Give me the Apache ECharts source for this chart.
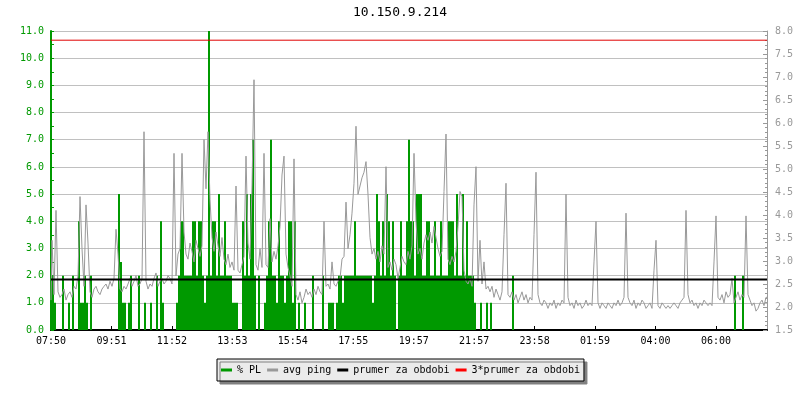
<!DOCTYPE html>
<html>
<head>
<meta charset="utf-8">
<script src="https://cdn.jsdelivr.net/npm/echarts@6/dist/echarts.min.js"></script>
<style>
  html, body { margin: 0; padding: 0; background: #fff; }
  #chart { width: 800px; height: 400px; }
</style>
</head>
<body>
<div id="chart"></div>
<script>
// casove popisky osy x (jeden tick ~ 2 h)
var timeLabels = ['07:50', '09:51', '11:52', '13:53', '15:54', '17:55', '19:57', '21:57', '23:58', '01:59', '04:00', '06:00'];

// avg ping [ms], jeden vzorek = 4 min, od 07:50
var pingMs = [
  2.15, 3.45, 2.27, 4.10, 2.33, 2.21, 2.27, 2.39, 2.15, 2.27,
  2.33, 2.21, 2.45, 2.39, 2.68, 4.40, 3.27, 2.45, 4.22, 3.39,
  2.33, 2.21, 2.39, 2.45, 2.33, 2.27, 2.39, 2.45, 2.50, 2.39,
  2.56, 2.45, 2.62, 3.69, 3.15, 2.39, 2.33, 2.45, 2.39, 2.50,
  2.62, 2.45, 2.56, 2.68, 2.45, 2.50, 2.62, 5.81, 2.56, 2.39,
  2.50, 2.45, 2.62, 2.74, 2.45, 2.56, 2.62, 2.50, 2.56, 2.68,
  2.62, 2.50, 5.34, 2.68, 3.15, 3.27, 5.34, 3.63, 3.15, 3.04,
  3.39, 3.21, 2.98, 3.45, 3.27, 3.10, 3.33, 5.64, 4.57, 5.81,
  4.34, 3.51, 3.21, 3.63, 3.33, 3.10, 3.51, 3.04, 2.92, 3.15,
  2.86, 2.98, 2.80, 4.63, 2.80, 2.74, 2.92, 3.10, 5.28, 3.39,
  3.04, 4.63, 6.94, 2.92, 2.80, 3.27, 2.86, 5.34, 2.92, 2.86,
  3.92, 2.98, 3.21, 3.04, 3.33, 3.75, 4.87, 5.28, 3.15, 2.86,
  2.68, 2.45, 5.22, 2.27, 2.15, 2.33, 2.09, 2.21, 2.39, 2.27,
  2.33, 2.21, 2.39, 2.27, 2.45, 2.33, 2.27, 3.86, 2.45, 2.50,
  2.39, 2.98, 2.50, 2.45, 2.56, 2.62, 3.04, 3.10, 4.28, 3.27,
  3.57, 4.04, 4.69, 5.93, 4.45, 4.63, 4.81, 4.93, 5.16, 4.45,
  3.51, 3.15, 3.27, 3.04, 3.21, 2.98, 3.33, 3.15, 5.05, 2.86,
  2.98, 2.80, 3.04, 2.92, 2.62, 2.86, 3.10, 2.98, 2.92, 3.21,
  3.04, 3.33, 5.34, 3.86, 3.15, 3.27, 3.04, 3.39, 3.57, 3.45,
  3.63, 3.39, 3.75, 3.51, 3.27, 3.10, 3.21, 4.51, 5.76, 3.04,
  2.92, 3.10, 2.98, 3.21, 3.75, 4.51, 4.40, 2.80, 2.56, 2.50,
  2.62, 2.45, 4.22, 5.05, 2.56, 3.45, 2.50, 2.98, 2.39, 2.45,
  2.33, 2.45, 2.21, 2.39, 2.27, 2.15, 2.33, 3.57, 4.69, 2.27,
  2.21, 2.33, 2.15, 2.27, 2.09, 2.21, 2.33, 2.15, 2.27, 2.09,
  2.21, 2.15, 3.57, 4.93, 2.27, 2.09, 2.03, 2.15, 2.09, 1.97,
  2.09, 2.03, 2.15, 1.97, 2.09, 2.03, 2.15, 2.09, 4.45, 2.21,
  2.03, 2.09, 1.97, 2.15, 2.03, 2.09, 1.97, 2.03, 2.15, 2.03,
  2.09, 2.03, 2.98, 3.86, 2.09, 1.97, 2.09, 2.03, 1.97, 2.09,
  2.03, 1.97, 2.09, 2.03, 2.15, 2.03, 2.09, 2.21, 4.04, 2.21,
  2.09, 2.03, 2.15, 1.97, 2.09, 2.03, 2.15, 2.09, 1.97, 2.03,
  2.09, 1.97, 2.80, 3.45, 2.03, 1.97, 2.09, 2.03, 1.97, 2.03,
  1.97, 2.03, 2.09, 2.03, 1.97, 2.09, 2.15, 2.21, 4.10, 2.27,
  2.09, 2.15, 2.03, 2.09, 1.97, 2.09, 2.03, 2.15, 2.09, 2.03,
  2.09, 2.03, 2.98, 3.98, 2.21, 2.15, 2.27, 2.09, 2.33, 2.21,
  2.27, 2.62, 2.09, 2.21, 2.33, 2.15, 2.27, 2.21, 3.98, 2.27,
  2.15, 2.03, 2.09, 1.91, 1.97, 2.09, 2.15, 2.03, 2.21
];

// % packet loss, stejne vzorky
var lossPct = [
  2, 2, 1, 0, 0, 0, 2, 0, 0, 1,
  0, 2, 0, 0, 4, 1, 1, 2, 1, 0,
  2, 0, 0, 0, 0, 0, 0, 0, 0, 0,
  0, 0, 0, 0, 5, 2.5, 1, 1, 0, 1,
  2, 0, 0, 0, 2, 0, 0, 1, 0, 0,
  1, 0, 0, 2, 0, 4, 1, 0, 0, 0,
  0, 0, 0, 1, 2, 4, 4, 2, 2, 2,
  2, 4, 4, 2, 4, 4, 2, 1, 2, 11,
  2, 4, 4, 2, 5, 2, 2, 4, 2, 2,
  2, 1, 1, 1, 0, 0, 4, 2, 5, 2,
  5, 7, 2, 0, 2, 0, 0, 1, 2, 4,
  7, 2, 2, 1, 4, 2, 2, 1, 2, 4,
  4, 1, 4, 0, 1, 0, 0, 1, 0, 0,
  0, 2, 0, 0, 0, 0, 2, 0, 0, 1,
  1, 1, 0, 1, 2, 2, 1, 2, 2, 2,
  2, 2, 4, 2, 2, 2, 2, 2, 2, 2,
  2, 1, 2, 5, 4, 2, 4, 2, 5, 4,
  2, 4, 2, 0, 2, 4, 2, 2, 4, 7,
  4, 4, 2, 5, 5, 5, 2, 2, 4, 4,
  2, 2, 4, 2, 2, 4, 2, 2, 2, 4,
  4, 4, 2, 5, 2, 2, 5, 2, 4, 2,
  2, 2, 1, 0, 0, 1, 0, 0, 1, 0,
  1, 0, 0, 0, 0, 0, 0, 0, 0, 0,
  0, 2, 0, 0, 0, 0, 0, 0, 0, 0,
  0, 0, 0, 0, 0, 0, 0, 0, 0, 0,
  0, 0, 0, 0, 0, 0, 0, 0, 0, 0,
  0, 0, 0, 0, 0, 0, 0, 0, 0, 0,
  0, 0, 0, 0, 0, 0, 0, 0, 0, 0,
  0, 0, 0, 0, 0, 0, 0, 0, 0, 0,
  0, 0, 0, 0, 0, 0, 0, 0, 0, 0,
  0, 0, 0, 0, 0, 0, 0, 0, 0, 0,
  0, 0, 0, 0, 0, 0, 0, 0, 0, 0,
  0, 0, 0, 0, 0, 0, 0, 0, 0, 0,
  0, 0, 0, 0, 0, 0, 0, 0, 0, 0,
  0, 0, 2, 0, 0, 0, 2, 0, 0, 0,
  0, 0, 0, 0, 0, 0, 0, 0, 0
];

var avgPing = 2.6;   // prumer za obdobi
var avgPing3 = 7.8;  // 3*prumer za obdobi

var mono = "'DejaVu Sans Mono', monospace";
var lastIdx = pingMs.length - 1;

var pingData = pingMs.map(function (v, i) { return [i, v]; });
var lossData = lossPct.map(function (v, i) { return [i, v]; });

var myChart = echarts.init(document.getElementById('chart'), null, { renderer: 'canvas' });

var option = {
  animation: false,
  backgroundColor: '#fff',
  title: {
    text: '10.150.9.214',
    left: 395,
    top: 1,
    textAlign: 'center',
    textStyle: { fontFamily: mono, fontSize: 13, fontWeight: 'normal', color: '#000' }
  },
  legend: {
    left: 217,
    top: 359,
    icon: 'rect',
    itemWidth: 11,
    itemHeight: 3,
    itemGap: 6,
    padding: [6, 4, 6, 4],
    backgroundColor: '#ebebeb',
    borderColor: '#000',
    borderWidth: 1,
    shadowColor: '#808080',
    shadowBlur: 0,
    shadowOffsetX: 3,
    shadowOffsetY: 3,
    selectedMode: false,
    textStyle: { fontFamily: mono, fontSize: 10, color: '#000' },
    data: ['% PL', 'avg ping', 'prumer za obdobi', '3*prumer za obdobi']
  },
  grid: { left: 51, right: 33, top: 31, bottom: 70 },
  xAxis: {
    type: 'value',
    min: 0,
    max: lastIdx,
    interval: 30.225,
    axisLine: { show: true, onZero: false, lineStyle: { color: '#000', width: 2 } },
    axisTick: { show: true, inside: true, length: 4, lineStyle: { color: '#000' } },
    splitLine: { show: false },
    axisLabel: {
      color: '#000',
      fontFamily: mono,
      fontSize: 10,
      margin: 6,
      showMaxLabel: false,
      formatter: function (v) {
        var k = Math.round(v / 30.225);
        return timeLabels[k] || '';
      }
    }
  },
  yAxis: [
    {
      type: 'value',
      min: 0,
      max: 11,
      interval: 1,
      position: 'left',
      axisLine: { show: true, lineStyle: { color: '#009900', width: 2 } },
      axisTick: { show: true, inside: true, length: 3, lineStyle: { color: '#009900' } },
      minorTick: { show: true, splitNumber: 2, length: 3, lineStyle: { color: '#009900' } },
      splitLine: { show: true, lineStyle: { color: '#c0c0c0', width: 1 } },
      axisLabel: {
        color: '#009900',
        fontFamily: mono,
        fontSize: 10,
        margin: 7,
        formatter: function (v) { return v.toFixed(1); }
      }
    },
    {
      type: 'value',
      min: 1.5,
      max: 8,
      interval: 0.5,
      position: 'right',
      axisLine: { show: true, lineStyle: { color: '#999999', width: 1 } },
      axisTick: { show: true, inside: true, length: 4, lineStyle: { color: '#999999' } },
      minorTick: { show: true, splitNumber: 5, length: 2, lineStyle: { color: '#999999' } },
      splitLine: { show: false },
      axisLabel: {
        color: '#999999',
        fontFamily: mono,
        fontSize: 10,
        margin: 8,
        formatter: function (v) { return v.toFixed(1); }
      }
    }
  ],
  series: [
    {
      name: '% PL',
      type: 'bar',
      yAxisIndex: 0,
      barWidth: 2,
      itemStyle: { color: '#009900' },
      data: lossData
    },
    {
      name: 'avg ping',
      type: 'line',
      yAxisIndex: 1,
      step: 'middle',
      showSymbol: false,
      symbol: 'none',
      itemStyle: { color: '#999999' },
      lineStyle: { color: '#999999', width: 1 },
      data: pingData
    },
    {
      name: 'prumer za obdobi',
      type: 'line',
      yAxisIndex: 1,
      symbol: 'none',
      itemStyle: { color: '#000' },
      lineStyle: { color: '#000', width: 2 },
      data: [[0, avgPing], [lastIdx, avgPing]]
    },
    {
      name: '3*prumer za obdobi',
      type: 'line',
      yAxisIndex: 1,
      symbol: 'none',
      itemStyle: { color: '#ff0000' },
      lineStyle: { color: '#e00000', width: 1 },
      data: [[0, avgPing3], [lastIdx, avgPing3]]
    }
  ]
};

myChart.setOption(option);
</script>
</body>
</html>
